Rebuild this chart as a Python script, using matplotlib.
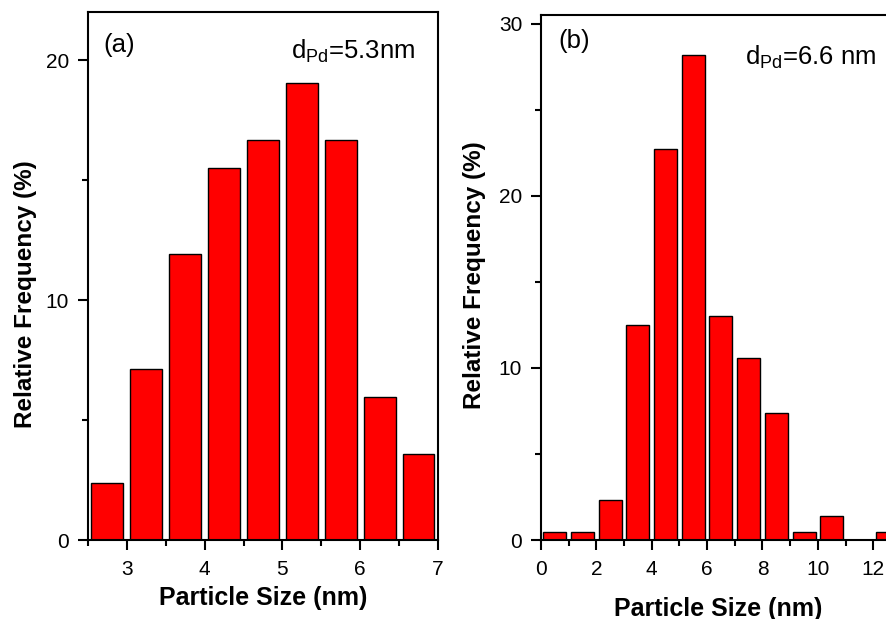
"""
Pd particle size histograms, panels (a) and (b).
"""

import numpy as np
import matplotlib.pyplot as plt
from matplotlib.ticker import MultipleLocator

plt.rcParams["font.family"] = ["Liberation Sans", "DejaVu Sans"]
plt.rcParams["mathtext.default"] = "regular"

# panel (a): 0.5 nm bins
size_a = [2.75, 3.25, 3.75, 4.25, 4.75, 5.25, 5.75, 6.25, 6.75]
freq_a = [2.38, 7.14, 11.9, 15.48, 16.67, 19.05, 16.67, 5.95, 3.57]

# panel (b): 1 nm bins
size_b = [0.5, 1.5, 2.5, 3.5, 4.5, 5.5, 6.5, 7.5, 8.5, 9.5, 10.5, 11.5, 12.5]
freq_b = [0.45, 0.45, 2.3, 12.5, 22.7, 28.2, 13.0, 10.6, 7.4, 0.45, 1.4, 0.0, 0.45]

fig = plt.figure(figsize=(8.86, 6.19), dpi=100)
ax_a = fig.add_axes([0.0993, 0.1276, 0.395, 0.853])
ax_b = fig.add_axes([0.6106, 0.1276, 0.40, 0.848])

def style(ax):
    for s in ax.spines.values():
        s.set_linewidth(1.5)
    ax.tick_params(which="both", direction="out", width=1.5, labelsize=15,
                   top=False, right=False)
    ax.tick_params(which="major", length=7.5)
    ax.tick_params(which="minor", length=4.5)
    ax.tick_params(axis="x", which="both", pad=7)
    ax.tick_params(axis="y", which="both", pad=6)
    ax.set_xlabel("Particle Size (nm)", fontsize=18, fontweight="bold")
    ax.set_ylabel("Relative Frequency (%)", fontsize=17.5, fontweight="bold")

ax_a.bar(size_a, freq_a, width=0.41, color="#ff0000", edgecolor="black", linewidth=1)
ax_a.set_xlim(2.5, 7)
ax_a.set_ylim(0, 22)
ax_a.xaxis.set_major_locator(MultipleLocator(1))
ax_a.xaxis.set_minor_locator(MultipleLocator(0.5))
ax_a.yaxis.set_major_locator(MultipleLocator(10))
ax_a.yaxis.set_minor_locator(MultipleLocator(5))
style(ax_a)
ax_a.xaxis.set_label_coords(0.5, -0.087)
ax_a.yaxis.set_label_coords(-0.145, 0.465)
ax_a.text(0.044, 0.937, "(a)", transform=ax_a.transAxes, fontsize=18.5, va="center")
ax_a.text(0.935, 0.925, "d$_{Pd}$=5.3nm", transform=ax_a.transAxes, fontsize=18.5,
          va="center", ha="right")

ax_b.bar(size_b, freq_b, width=0.83, color="#ff0000", edgecolor="black", linewidth=1)
ax_b.set_xlim(0, 12.8)
ax_b.set_ylim(0, 30.5)
ax_b.xaxis.set_major_locator(MultipleLocator(2))
ax_b.xaxis.set_minor_locator(MultipleLocator(1))
ax_b.yaxis.set_major_locator(MultipleLocator(10))
ax_b.yaxis.set_minor_locator(MultipleLocator(5))
style(ax_b)
ax_b.spines["right"].set_visible(False)
ax_b.xaxis.set_label_coords(0.5, -0.108)
ax_b.yaxis.set_label_coords(-0.155, 0.505)
ax_b.text(0.048, 0.95, "(b)", transform=ax_b.transAxes, fontsize=18.5, va="center")
ax_b.text(0.945, 0.92, "d$_{Pd}$=6.6 nm", transform=ax_b.transAxes, fontsize=18.5,
          va="center", ha="right")

plt.savefig("out.png", dpi=100)
